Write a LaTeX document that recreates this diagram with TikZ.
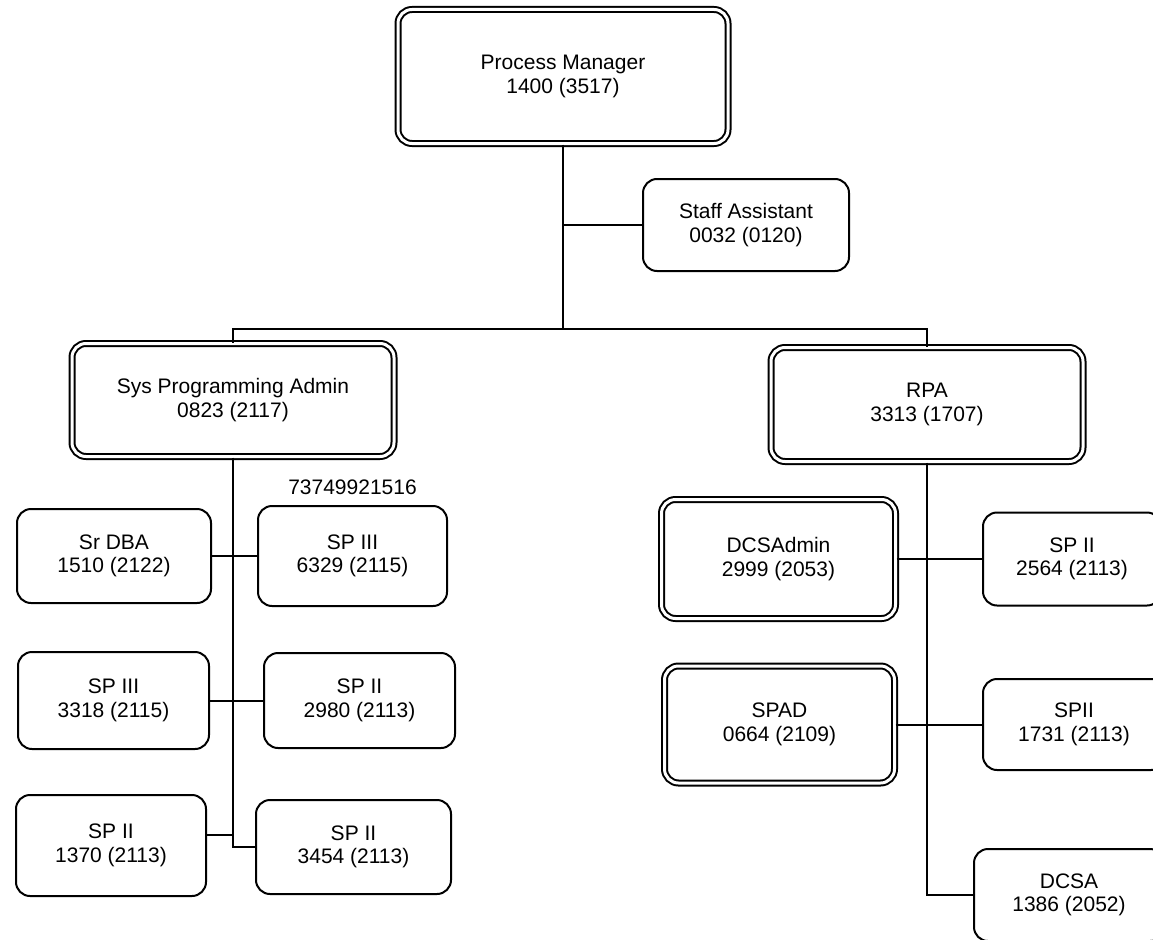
\documentclass[tikz,border=0pt]{standalone}
\usepackage{fontspec}
\setmainfont{Liberation Sans}
\usepackage{tikz}
\usetikzlibrary{positioning}
\newcommand{\postfont}{\fontsize{21}{23.5}\selectfont}

\begin{document}
\begin{tikzpicture}[x=1pt, y=-1pt,
    post/.style={draw, line width=2pt, rounded corners=14pt, align=center,
      font=\postfont, inner sep=0pt},
    headpost/.style={post, double, double distance=3pt},
    link/.style={line width=2pt}]
  \useasboundingbox (0,0) rectangle (1153,939);
  \clip (0,0) rectangle (1153,939);
  % top
  \node[headpost, minimum width=330pt, minimum height=134pt] (pm) at (563,76.5) {Process Manager\\1400 (3517)};
  \node[post, minimum width=206pt, minimum height=92pt] (sa) at (746,225) {Staff Assistant\\0032 (0120)};
  \node[headpost, minimum width=322pt, minimum height=113pt] (spa) at (233,400) {Sys Programming Admin\\0823 (2117)};
  \node[headpost, minimum width=312pt, minimum height=114pt] (rpa) at (927,404.5) {RPA\\3313 (1707)};
  \coordinate (bus) at (563,329);
  \draw[link] (pm.south) -- (bus);
  \draw[link] (sa.west) -- (sa.west -| pm.south);
  \draw[link] (spa.north) |- (bus) -| (rpa.north);
  % sys programming staff
  \node[post, minimum width=194pt, minimum height=94pt] (srdba) at (114,556) {Sr DBA\\1510 (2122)};
  \node[post, minimum width=189pt, minimum height=100pt] (sp3a) at (352.5,556) {SP III\\6329 (2115)};
  \node[above=10pt of sp3a, font=\postfont, inner sep=0pt] (sp3num) {73749921516};
  \node[post, minimum width=191pt, minimum height=97pt] (sp3b) at (113.5,700.5) {SP III\\3318 (2115)};
  \node[post, minimum width=191pt, minimum height=95pt] (sp2a) at (359.5,700.5) {SP II\\2980 (2113)};
  \node[post, minimum width=190pt, minimum height=101pt] (sp2b) at (111,845.5) {SP II\\1370 (2113)};
  \node[post, minimum width=195pt, minimum height=94pt] (sp2c) at (353.5,847) {SP II\\3454 (2113)};
  \draw[link] (spa.south) |- (sp2c.west);
  \draw[link] (srdba.east) -- (sp3a.west);
  \draw[link] (sp3b.east) -- (sp2a.west);
  \draw[link] ([yshift=10.5pt]sp2b.east) -- ([yshift=10.5pt]sp2b.east -| spa.south);
  % rpa staff
  \node[headpost, minimum width=234pt, minimum height=119pt] (dcsadm) at (778.5,559) {DCSAdmin\\2999 (2053)};
  \node[headpost, minimum width=230pt, minimum height=117pt] (spad) at (779.5,724.5) {SPAD\\0664 (2109)};
  \node[post, minimum width=178pt, minimum height=93pt] (sp2d) at (1072,559) {SP II\\2564 (2113)};
  \node[post, minimum width=182pt, minimum height=91pt] (sp2e) at (1074,724.5) {SPII\\1731 (2113)};
  \node[post, minimum width=190pt, minimum height=92pt] (dcsa) at (1069,895) {DCSA\\1386 (2052)};
  \draw[link] (rpa.south) |- (dcsa.west);
  \draw[link] (dcsadm.east) -- (sp2d.west);
  \draw[link] (spad.east) -- (sp2e.west);
\end{tikzpicture}
\end{document}
